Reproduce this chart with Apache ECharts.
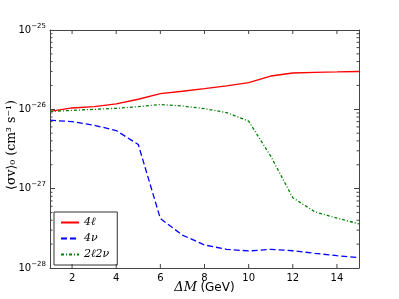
<!DOCTYPE html>
<html>
<head>
<meta charset="utf-8">
<script src="https://cdn.jsdelivr.net/npm/echarts@6/dist/echarts.min.js"></script>
<style>
  html, body { margin: 0; padding: 0; background: #fff; }
  #chart { width: 399px; height: 299px; }
</style>
</head>
<body>
<div id="chart"></div>
<script>
// data (cm^3 s^-1)
const deltaM = [1, 2, 3, 4, 5, 6, 7, 8, 9, 10, 11, 12, 13, 14, 15]
const sv4l = [0.94e-26, 1.04e-26, 1.08e-26, 1.17e-26, 1.34e-26, 1.58e-26, 1.69e-26, 1.82e-26, 1.97e-26, 2.17e-26, 2.63e-26, 2.87e-26, 2.93e-26, 2.96e-26, 3.0e-26]
const sv4nu = [7.3e-27, 6.99e-27, 6.3e-27, 5.4e-27, 3.6e-27, 4.2e-28, 2.6e-28, 1.95e-28, 1.72e-28, 1.64e-28, 1.72e-28, 1.65e-28, 1.53e-28, 1.43e-28, 1.35e-28]
const sv2l2nu = [0.94e-26, 0.97e-26, 1.0e-26, 1.03e-26, 1.08e-26, 1.15e-26, 1.1e-26, 1.02e-26, 0.91e-26, 0.71e-26, 2.57e-27, 7.7e-28, 5.1e-28, 4.25e-28, 3.6e-28]
const xTicks = [2, 4, 6, 8, 10, 12, 14]
const yDecades = [-28, -27, -26, -25]   // exponents of the major ticks

// minor tick positions for the log axis (2..9 x 10^n), in log10 units
const minorTicks = []
for (let e = -28; e < -25; e++) {
  for (let k = 2; k <= 9; k++) minorTicks.push(e + Math.log10(k))
}

// y axis is log10(<sigma v>)
const pair = (ys) => deltaM.map((x, i) => [x, Math.log10(ys[i])])
const axisColor = '#444'

function expLabel(v) {
  const e = Math.round(v)
  return '{b|10}{s|' + (e < 0 ? '\u2212' + (-e) : e) + '}'
}

const tickLine = (x1, y1, x2, y2) => ({
  type: 'line', shape: { x1, y1, x2, y2 }, style: { stroke: axisColor, lineWidth: 1 },
})

const chart = echarts.init(document.getElementById('chart'))
chart.setOption({
  animation: false,
  grid: { left: 50, right: 40, top: 30, bottom: 31, containLabel: false, outerBoundsMode: 'none' },
  legend: {
    data: ['4ℓ', '4ν', '2ℓ2ν'],
    orient: 'vertical',
    left: 54,
    top: 212,
    itemWidth: 18,
    itemHeight: 8,
    itemGap: 5,
    padding: [5, 8, 5, 6],
    borderColor: '#333',
    borderWidth: 1,
    itemStyle: { opacity: 0 },
    textStyle: { fontFamily: 'DejaVu Serif', fontStyle: 'italic', fontSize: 11, color: '#000' },
  },
  xAxis: [
    {
      type: 'value', min: 1, max: 15, interval: 1,
      name: '{i|ΔM} {n|(GeV)}', nameLocation: 'middle', nameGap: 13, nameMoveOverlap: false,
      nameTextStyle: {
        rich: {
          i: { fontFamily: 'DejaVu Serif', fontStyle: 'italic', fontSize: 13, color: '#000' },
          n: { fontFamily: 'DejaVu Sans', fontSize: 12, color: '#000' },
        },
      },
      axisLine: { lineStyle: { color: axisColor, width: 1 } },
      axisTick: { show: false },
      axisLabel: {
        color: '#000', fontFamily: 'DejaVu Sans', fontSize: 10, margin: 5,
        formatter: (v) => (xTicks.includes(v) ? String(v) : ''),
      },
      splitLine: { show: false },
    },
    {
      type: 'value', min: 1, max: 15, position: 'top',
      axisLine: { lineStyle: { color: axisColor, width: 1 } },
      axisTick: { show: false },
      axisLabel: { show: false },
      splitLine: { show: false },
    },
  ],
  yAxis: [
    {
      type: 'value', min: yDecades[0], max: yDecades[yDecades.length - 1], interval: 1,
      name: '⟨σv⟩₀ (cm³ s⁻¹)', nameLocation: 'middle', nameGap: 32, nameMoveOverlap: false,
      nameTextStyle: { fontFamily: 'DejaVu Serif', fontSize: 12.5, color: '#000', padding: [0, 0, 0, 8] },
      axisLine: { lineStyle: { color: axisColor, width: 1 } },
      axisTick: { inside: true, length: 5, lineStyle: { color: axisColor } },
      axisLabel: {
        margin: 4,
        formatter: expLabel,
        rich: {
          b: { fontFamily: 'DejaVu Sans', fontSize: 10, color: '#000' },
          s: { fontFamily: 'DejaVu Sans', fontSize: 7, color: '#000', verticalAlign: 'bottom', padding: [0, 0, 8, 0] },
        },
      },
      splitLine: { show: false },
    },
    {
      type: 'value', min: yDecades[0], max: yDecades[yDecades.length - 1], interval: 1, position: 'right',
      axisLine: { lineStyle: { color: axisColor, width: 1 } },
      axisTick: { inside: true, length: 5, lineStyle: { color: axisColor } },
      axisLabel: { show: false },
      splitLine: { show: false },
    },
  ],
  series: [
    {
      name: '4ℓ', type: 'line', data: pair(sv4l), symbol: 'none',
      lineStyle: { color: '#ff0000', width: 1.3 }, itemStyle: { color: '#ff0000' },
    },
    {
      name: '4ν', type: 'line', data: pair(sv4nu), symbol: 'none',
      lineStyle: { color: '#0000ff', width: 1.3, type: [6, 3] }, itemStyle: { color: '#0000ff' },
    },
    {
      name: '2ℓ2ν', type: 'line', data: pair(sv2l2nu), symbol: 'none',
      lineStyle: { color: '#008000', width: 1.3, type: [3, 2, 1, 2] }, itemStyle: { color: '#008000' },
    },
    {
      // minor ticks of the log axis, left and right
      type: 'custom', silent: true,
      data: minorTicks.map((v) => [1, v]),
      renderItem: (params, api) => {
        const v = api.value(1)
        const l = api.coord([1, v])
        const r = api.coord([15, v])
        return {
          type: 'group',
          children: [tickLine(l[0], l[1], l[0] + 2.5, l[1]), tickLine(r[0], r[1], r[0] - 2.5, r[1])],
        }
      },
    },
    {
      // major ticks of the x axis, bottom and top
      type: 'custom', silent: true,
      data: xTicks.map((x) => [x, -28]),
      renderItem: (params, api) => {
        const x = api.value(0)
        const b = api.coord([x, -28])
        const t = api.coord([x, -25])
        return {
          type: 'group',
          children: [tickLine(b[0], b[1], b[0], b[1] - 4), tickLine(t[0], t[1], t[0], t[1] + 4)],
        }
      },
    },
  ],
})
</script>
</body>
</html>
